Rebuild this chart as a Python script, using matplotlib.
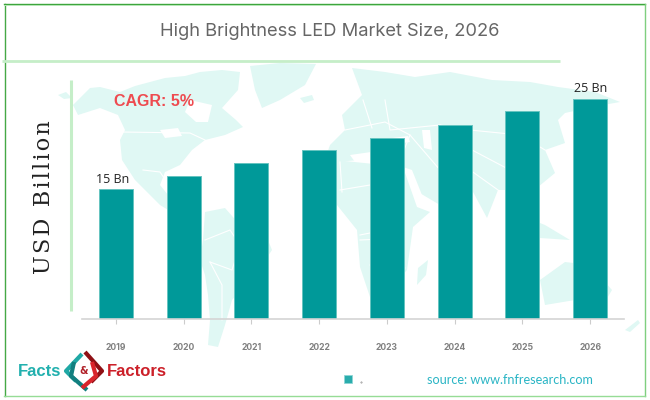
import matplotlib
matplotlib.use('Agg')
import matplotlib.pyplot as plt
from matplotlib.patches import Polygon, Rectangle

years = ['2019', '2020', '2021', '2022', '2023', '2024', '2025', '2026']
market_size = [15, 16.4, 17.9, 19.3, 20.7, 22.1, 23.6, 25]
bar_labels = {0: '15 Bn', 7: '25 Bn'}

TEAL = '#009999'
GREEN = '#c5eec8'
MAP = '#e0f8f4'

# rough world map for the background, in image pixels
land = [
    [(73, 105), (90, 88), (100, 87), (120, 92), (135, 86), (150, 82), (165, 78), (185, 76), (200, 72), (222, 70),
     (240, 72), (238, 90), (222, 108), (236, 120), (243, 127), (225, 135), (205, 140), (192, 150), (180, 165),
     (165, 172), (160, 185), (172, 200), (195, 222), (188, 222), (160, 205), (150, 195), (135, 180), (122, 160),
     (120, 140), (125, 130), (118, 115), (100, 108), (78, 115)],
    [(250, 66), (280, 63), (316, 64), (305, 85), (280, 100), (262, 108), (255, 90)],
    [(205, 212), (225, 208), (240, 225), (268, 240), (272, 250), (262, 265), (245, 285), (232, 300), (225, 325),
     (218, 347), (208, 345), (210, 320), (208, 295), (205, 275), (200, 260), (203, 240)],
    [(352, 68), (385, 72), (415, 77), (450, 72), (492, 80), (530, 82), (558, 87), (595, 92), (620, 102), (592, 107),
     (565, 113), (558, 120), (565, 143), (545, 150), (555, 173), (538, 187), (525, 205), (515, 190), (498, 190),
     (487, 218), (472, 190), (455, 178), (440, 205), (418, 192), (403, 167), (385, 155), (360, 160), (335, 162),
     (322, 168), (330, 145), (345, 130), (342, 115), (362, 95)],
    [(335, 160), (403, 167), (417, 207), (430, 212), (413, 227), (407, 270), (385, 295), (370, 297), (360, 267),
     (357, 230), (337, 205), (320, 195), (322, 175)],
    [(417, 285), (418, 268), (428, 260), (426, 275)],
    [(540, 280), (565, 262), (590, 265), (612, 290), (600, 310), (575, 300), (545, 305)],
    [(520, 215), (545, 225), (570, 240), (540, 238)],
    [(625, 330), (638, 320), (640, 323), (630, 332)],
    [(58, 95), (66, 92), (72, 98), (64, 99)],
    [(300, 98), (312, 95), (314, 100), (304, 103)],
]
# seas cut out of the land
water = [
    [(190, 100), (212, 105), (208, 122), (196, 122), (185, 112)],
    [(350, 155), (385, 150), (402, 158), (385, 162), (355, 162)],
    [(392, 138), (408, 136), (410, 142), (395, 144)],
    [(422, 130), (430, 130), (432, 150), (424, 148)],
    [(160, 130), (178, 128), (182, 136), (165, 138)],
    [(403, 167), (412, 170), (424, 200), (418, 200)],
]
borders = [
    [(122, 132), (190, 133), (205, 140)], [(143, 170), (160, 172), (172, 190)],
    [(205, 240), (230, 230), (240, 245), (232, 270), (210, 262)], [(210, 262), (222, 285), (222, 320)],
    [(340, 190), (370, 185), (392, 195), (385, 230), (360, 235)], [(385, 230), (375, 265), (395, 270)],
    [(345, 130), (385, 122), (410, 135), (400, 160)], [(385, 100), (390, 130), (440, 125), (470, 130), (520, 135)],
    [(440, 125), (470, 170), (498, 190)], [(410, 135), (440, 170)],
    [(363, 100), (372, 128)], [(360, 240), (404, 238)], [(370, 265), (405, 268)],
    [(520, 135), (545, 150)], [(472, 150), (510, 170), (525, 205)], [(340, 162), (342, 192)],
]

fig = plt.figure(figsize=(6.5, 4), dpi=100)

# full figure layer for frame, map and logo
bg = fig.add_axes([0, 0, 1, 1])
bg.set_xlim(0, 650)
bg.set_ylim(400, 0)
bg.axis('off')

for p in land:
    bg.add_patch(Polygon(p, closed=True, fc=MAP, ec='none'))
for p in water:
    bg.add_patch(Polygon(p, closed=True, fc='white', ec='none'))
for b in borders:
    bg.plot([q[0] for q in b], [q[1] for q in b], color='white', lw=0.8)

bg.plot([4.5, 4.5], [4, 396], color='#45a845', lw=1)
bg.plot([4, 645], [4, 4], color='#3da53d', lw=1)
bg.plot([4, 645], [5, 5], color='#b5e6b5', lw=0.7)
bg.plot([645, 645], [4, 396], color='#7fcf7f', lw=1)
bg.plot([4, 645], [396, 396], color='#96dc96', lw=1)

bg.plot([2, 560], [60.5, 60.5], color=GREEN, lw=2, solid_capstyle='butt')
bg.plot([70.5, 70.5], [80, 311], color=GREEN, lw=2.2, solid_capstyle='butt')

bg.text(330, 31.5, 'High Brightness LED Market Size, 2026', ha='center', va='center',
        fontsize=13.2, color='#666666', family='Inter')
bg.text(44, 197, '\u200a'.join('USD Billion'), rotation=90, ha='center', va='center', fontsize=16,
        color='#222222', family='DejaVu Serif')
bg.text(114, 101, 'CAGR: 5%', ha='left', va='center', fontsize=11.5, color='#ee4b50',
        family='Liberation Sans', fontweight='bold')

# logo
bg.text(18, 372, 'Facts', ha='left', va='center', fontsize=12, color='#22b0ae',
        family='Liberation Sans', fontweight='bold')
bg.text(107, 372, 'Factors', ha='left', va='center', fontsize=12, color='#cc2029',
        family='Liberation Sans', fontweight='bold')
bg.plot([82, 66, 76], [354, 371, 381], color='#1fa8a5', lw=3, solid_capstyle='butt')
bg.plot([74, 71, 87], [362, 376, 390], color='#127f7f', lw=3, solid_capstyle='butt')
bg.plot([85, 102, 91], [352, 371, 382], color='#8f1015', lw=3, solid_capstyle='butt')
bg.plot([92, 96, 82], [362, 376, 388], color='#d9242b', lw=3, solid_capstyle='butt')
bg.text(84, 371, '&', ha='center', va='center', fontsize=7, color='#b02028', fontweight='bold')

# legend square and source
bg.add_patch(Rectangle((344, 375), 8, 8, fc='#2aacac', ec='#8fd5d5', lw=0.6))
bg.plot([360.5], [381.5], marker='.', ms=0.8, color='#888888')
bg.text(427, 380, 'source: www.fnfresearch.com', ha='left', va='center', fontsize=9.1,
        color='#2ab5c5', family='Lato')

# chart layer
base_val = 15 - 130 / 9.03
top_val = base_val + 239 / 9.03
ax = fig.add_axes([82 / 650, 81 / 400, 542 / 650, 239 / 400])
ax.patch.set_alpha(0)
x = range(len(years))
ax.bar(x, market_size, width=0.5, color=TEAL, edgecolor='#66c4c0', linewidth=0.7)
ax.set_xlim(-0.5, 7.5)
ax.set_ylim(base_val, top_val)
ax.set_xticks(list(x))
ax.set_xticklabels(years, fontsize=6.2, fontweight='bold', color='#808080', family='Inter')
ax.tick_params(axis='x', length=3.5, width=0.8, color='#cccccc', pad=14)
ax.set_yticks([])
for s in ['top', 'left', 'right']:
    ax.spines[s].set_visible(False)
ax.spines['bottom'].set_color('#d4d4d4')
ax.spines['bottom'].set_linewidth(1.2)
for i, txt in bar_labels.items():
    ax.annotate(txt, (i, market_size[i]), xytext=(-2 if i == 0 else 0, 2.5), textcoords='offset points',
                ha='center', va='bottom', fontsize=9, color='#222222', family='Open Sans')

plt.savefig('out.png', dpi=100)
